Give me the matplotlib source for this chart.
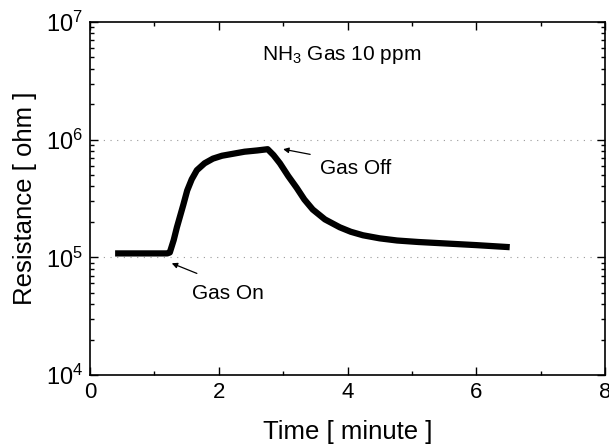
import matplotlib
matplotlib.use("Agg")
import matplotlib.pyplot as plt
from matplotlib.ticker import LogLocator, MultipleLocator, NullFormatter

plt.rcParams['font.family'] = ['Liberation Sans', 'DejaVu Sans']
plt.rcParams['mathtext.fontset'] = 'custom'
plt.rcParams['mathtext.rm'] = 'Liberation Sans'
plt.rcParams['mathtext.it'] = 'Liberation Sans:italic'
plt.rcParams['mathtext.bf'] = 'Liberation Sans:bold'

time_min = [0.39, 0.8, 1.0, 1.2, 1.24, 1.3, 1.35, 1.45, 1.51, 1.58, 1.66, 1.78, 1.91,
            2.05, 2.17, 2.4, 2.6, 2.76, 2.85, 2.95, 3.08, 3.21, 3.33, 3.46, 3.65,
            3.88, 4.05, 4.24, 4.5, 4.77, 5.1, 5.43, 6.0, 6.52]
resistance = [1.08e5, 1.08e5, 1.08e5, 1.08e5, 1.1e5, 1.4e5, 1.8e5, 2.8e5, 3.7e5, 4.6e5,
              5.5e5, 6.3e5, 6.9e5, 7.3e5, 7.5e5, 7.9e5, 8.1e5, 8.3e5, 7.4e5, 6.3e5,
              4.9e5, 3.9e5, 3.1e5, 2.55e5, 2.1e5, 1.8e5, 1.65e5, 1.54e5, 1.45e5,
              1.39e5, 1.35e5, 1.32e5, 1.27e5, 1.22e5]

fig = plt.figure(figsize=(6.09, 4.45), dpi=100)
ax = fig.add_axes([90/609, 1 - 375/445, (605-90)/609, (375-22)/445])

ax.plot(time_min, resistance, color='black', lw=4.5, solid_capstyle='butt', solid_joinstyle='round')

ax.set_yscale('log')
ax.set_xlim(0, 8)
ax.set_ylim(1e4, 1e7)
ax.xaxis.set_major_locator(MultipleLocator(2))
ax.xaxis.set_minor_locator(MultipleLocator(1))
ax.yaxis.set_major_locator(LogLocator(base=10, numticks=10))
ax.yaxis.set_minor_locator(LogLocator(base=10, subs=range(2, 10), numticks=10))
ax.yaxis.set_minor_formatter(NullFormatter())

ax.tick_params(which='both', direction='in', top=True, right=True, width=1.0)
ax.tick_params(axis='x', labelsize=16)
ax.tick_params(axis='y', labelsize=17)
ax.tick_params(which='major', length=6, pad=5)
ax.tick_params(which='minor', length=3)
for s in ax.spines.values():
    s.set_linewidth(1.2)

for yv in [1e5, 1e6]:
    ax.axhline(yv, color='#999999', lw=0.8, linestyle=(0, (1, 5)), zorder=0)

ax.set_xlabel('Time [ minute ]', fontsize=18.5, labelpad=12)
ax.set_ylabel('Resistance [ ohm ]', fontsize=18.5, labelpad=6)

ax.text(2.67, 5.2e6, r'NH$_3$ Gas 10 ppm', fontsize=15, va='center', ha='left')

ax.text(3.57, 5.7e5, 'Gas Off', fontsize=15, va='center', ha='left')
ax.annotate('', xy=(3.0, 8.3e5), xytext=(3.42, 7.5e5),
            arrowprops=dict(arrowstyle='-|>', color='black', lw=0.9, mutation_scale=8,
                            shrinkA=0, shrinkB=0))
ax.text(1.58, 4.94e4, 'Gas On', fontsize=15, va='center', ha='left')
ax.annotate('', xy=(1.27, 8.9e4), xytext=(1.66, 7.3e4),
            arrowprops=dict(arrowstyle='-|>', color='black', lw=0.9, mutation_scale=8,
                            shrinkA=0, shrinkB=0))

fig.savefig('out.png', dpi=100)
